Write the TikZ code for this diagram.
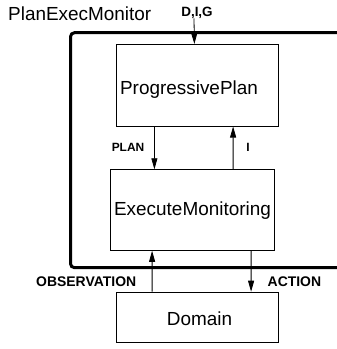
\documentclass[tikz,border=0pt]{standalone}
\usepackage{fontspec}
\setmainfont{Liberation Sans}
\usetikzlibrary{arrows.meta}
\begin{document}
\begin{tikzpicture}[x=1bp,y=-1bp,
  box/.style={draw, line width=0.8bp, inner sep=0pt, anchor=north west},
  boxtext/.style={font=\fontsize{19}{22}\selectfont, inner sep=0pt, anchor=base},
  flowlabel/.style={font=\bfseries\fontsize{12}{14}\selectfont, inner sep=0pt, anchor=base},
  iolabel/.style={font=\bfseries\fontsize{14}{16}\selectfont, inner sep=0pt, anchor=base west},
  arr/.style={line width=0.8bp, -{Triangle[length=11bp,width=6bp]}},
  frame/.style={line width=3bp, rounded corners=4bp}]
\useasboundingbox (0,0) rectangle (337,349);
\clip (0,0) rectangle (337,349);

% title and outer module frame (open to the right)
\node[boxtext, anchor=base west] (title) at (8,20) {PlanExecMonitor};
\coordinate (ftr) at (360,32.7);
\coordinate (fbr) at (360,267.7);
\draw[frame] (ftr) -- (70.5,32.7) -- (70.5,267.7) -- (fbr);

% component boxes
\node[box, minimum width=162.6bp, minimum height=81.7bp] (pp) at (115.7,44) {};
\node[box, minimum width=163.7bp, minimum height=80.7bp] (em) at (110.3,169.3) {};
\node[box, minimum width=162.6bp, minimum height=50bp] (dom) at (115.7,291.7) {};

\node[boxtext] (pptext) at (189,94) {ProgressivePlan};
\node[boxtext] (emtext) at (192.5,215) {ExecuteMonitoring};
\node[boxtext] (domtext) at (199.5,325) {Domain};

% input to the planner
\node[flowlabel, font=\bfseries\fontsize{13.5}{15}\selectfont] (dig) at (197,16) {D,I,G};
\draw[arr] ([xshift=-3bp]dig.south) -- ([xshift=-3bp]pp.north);

% planner <-> executor
\draw[arr] ([xshift=-43bp]pp.south) -- ([xshift=-38.15bp]em.north);
\draw[arr] ([xshift=40.55bp]em.north) -- ([xshift=35.7bp]pp.south);
\node[flowlabel, anchor=base east] (planlbl) at (144.5,151.7) {PLAN};
\node[flowlabel] (ilbl) at (248,151.7) {I};

% executor <-> domain
\draw[arr] ([xshift=-45.3bp]dom.north) -- ([xshift=-40.45bp]em.south);
\draw[arr] ([xshift=58.55bp]em.south) -- ([xshift=53.7bp]dom.north);
\node[iolabel] (obslbl) at (36,286.5) {OBSERVATION};
\node[iolabel] (actlbl) at (267.5,286.5) {ACTION};
\end{tikzpicture}
\end{document}
